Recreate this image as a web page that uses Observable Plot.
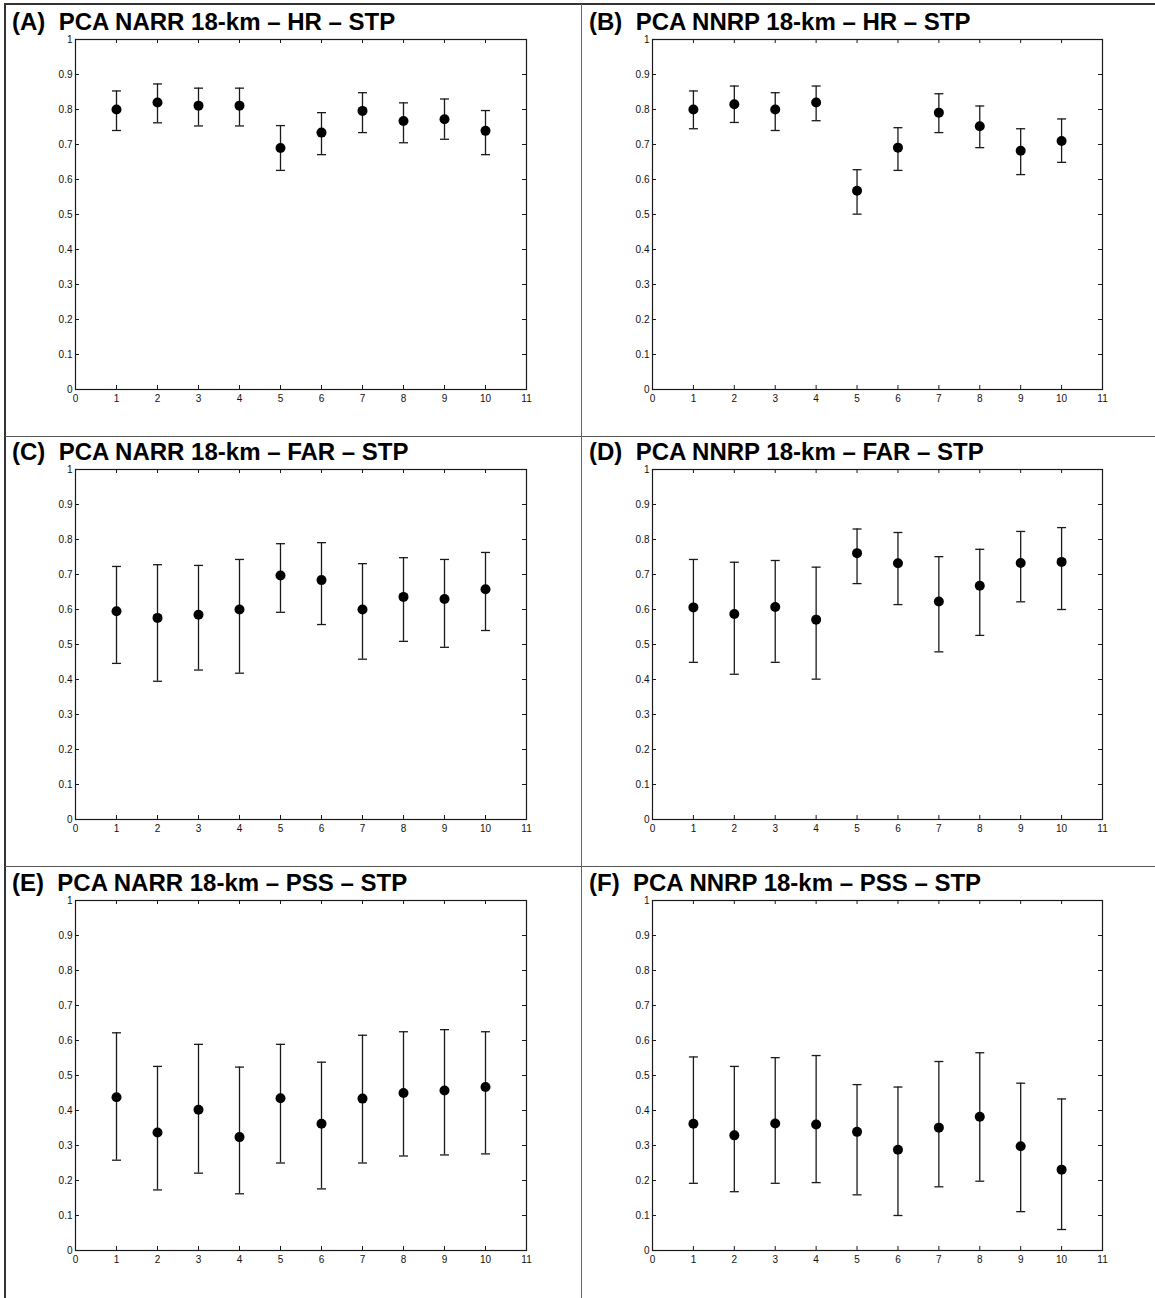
<!DOCTYPE html>
<html><head><meta charset="utf-8">
<script src="https://cdn.jsdelivr.net/npm/d3@7"></script>
<script src="https://cdn.jsdelivr.net/npm/@observablehq/plot@0.6"></script>
<style>
body{margin:0;background:#fff;}
#page{position:relative;width:1155px;height:1298px;overflow:hidden;font-family:"Liberation Sans",Arial,sans-serif;background:#fff;}
.title{position:absolute;font-weight:bold;font-size:24px;white-space:pre;color:#000;line-height:1;}
.panel{position:absolute;}
.line{position:absolute;}
</style></head><body><div id="page"></div>
<script>
// ---- data ----
const xCats = [1, 2, 3, 4, 5, 6, 7, 8, 9, 10];
const xTicks = [0, 1, 2, 3, 4, 5, 6, 7, 8, 9, 10, 11];
const yTicks = [0, 0.1, 0.2, 0.3, 0.4, 0.5, 0.6, 0.7, 0.8, 0.9, 1];
const titles = [
  "(A)  PCA NARR 18-km – HR – STP",
  "(B)  PCA NNRP 18-km – HR – STP",
  "(C)  PCA NARR 18-km – FAR – STP",
  "(D)  PCA NNRP 18-km – FAR – STP",
  "(E)  PCA NARR 18-km – PSS – STP",
  "(F)  PCA NNRP 18-km – PSS – STP"
];
const meanA  = [0.800, 0.820, 0.811, 0.811, 0.690, 0.734, 0.796, 0.767, 0.772, 0.739];
const upperA = [0.853, 0.873, 0.861, 0.861, 0.754, 0.791, 0.848, 0.819, 0.830, 0.797];
const lowerA = [0.740, 0.762, 0.753, 0.753, 0.626, 0.671, 0.734, 0.705, 0.715, 0.671];

const meanB  = [0.800, 0.815, 0.800, 0.820, 0.568, 0.691, 0.791, 0.752, 0.682, 0.710];
const upperB = [0.853, 0.867, 0.848, 0.867, 0.628, 0.748, 0.845, 0.810, 0.745, 0.773];
const lowerB = [0.745, 0.763, 0.740, 0.768, 0.501, 0.626, 0.734, 0.691, 0.614, 0.649];

const meanC  = [0.595, 0.576, 0.585, 0.600, 0.697, 0.684, 0.600, 0.636, 0.630, 0.658];
const upperC = [0.723, 0.728, 0.726, 0.743, 0.788, 0.791, 0.731, 0.748, 0.743, 0.763];
const lowerC = [0.446, 0.395, 0.427, 0.418, 0.592, 0.557, 0.458, 0.509, 0.492, 0.540];

const meanD  = [0.606, 0.587, 0.607, 0.571, 0.761, 0.732, 0.623, 0.668, 0.733, 0.736];
const upperD = [0.743, 0.735, 0.740, 0.721, 0.830, 0.820, 0.751, 0.772, 0.823, 0.834];
const lowerD = [0.449, 0.415, 0.449, 0.401, 0.674, 0.614, 0.479, 0.526, 0.622, 0.600];

const meanE  = [0.438, 0.337, 0.402, 0.324, 0.435, 0.362, 0.434, 0.450, 0.457, 0.467];
const upperE = [0.622, 0.526, 0.589, 0.524, 0.589, 0.538, 0.615, 0.625, 0.631, 0.625];
const lowerE = [0.258, 0.173, 0.221, 0.162, 0.250, 0.176, 0.250, 0.270, 0.273, 0.276];

const meanF  = [0.362, 0.329, 0.363, 0.360, 0.339, 0.288, 0.351, 0.382, 0.298, 0.231];
const upperF = [0.553, 0.526, 0.551, 0.557, 0.474, 0.467, 0.540, 0.565, 0.478, 0.433];
const lowerF = [0.192, 0.168, 0.192, 0.194, 0.159, 0.100, 0.182, 0.198, 0.111, 0.060];

const series = [
  [meanA, upperA, lowerA], [meanB, upperB, lowerB],
  [meanC, upperC, lowerC], [meanD, upperD, lowerD],
  [meanE, upperE, lowerE], [meanF, upperF, lowerF]
];

// ---- layout ----
const page = document.getElementById("page");
const colLeft = [0, 578];
const rowTop = [0, 430, 861];
const W = 578, H = 432;
const MT = 39, MB = 43;
const FH = H - MT - MB;
const colMargins = [[75, 52], [74, 54]];
const titleLeft = [12, 589];
const ink = "#1a1a1a";

const capSymbol = {
  draw(ctx, size) {
    const r = Math.sqrt(size / Math.PI);
    ctx.moveTo(-r, 0);
    ctx.lineTo(r, 0);
  }
};

function addLine(x, y, w, h, color) {
  const d = document.createElement("div");
  d.className = "line";
  Object.assign(d.style, {left: x + "px", top: y + "px", width: w + "px", height: h + "px", background: color});
  page.appendChild(d);
}

series.forEach(([mean, upper, lower], i) => {
  const col = i % 2, row = Math.floor(i / 2);
  const [ml, mr] = colMargins[col];
  const FW = W - ml - mr;
  const data = xCats.map((x, j) => ({x, v: mean[j], hi: upper[j], lo: lower[j]}));
  const chart = Plot.plot({
    width: W, height: H,
    marginLeft: ml, marginRight: mr, marginTop: MT, marginBottom: MB,
    x: {domain: [0, 11], label: null},
    y: {domain: [0, 1], label: null},
    style: {fontFamily: "'Liberation Sans', Arial, sans-serif", fontSize: "10px", background: "transparent", color: "#111", overflow: "visible"},
    marks: [
      Plot.frame({stroke: ink, strokeWidth: 1.2}),
      Plot.ruleX(xTicks, {x: d => d, insetTop: FH - 4, stroke: ink}),
      Plot.ruleX(xTicks, {x: d => d, insetBottom: FH - 4, stroke: ink}),
      Plot.ruleY(yTicks, {y: d => d, insetRight: FW - 4, stroke: ink}),
      Plot.ruleY(yTicks, {y: d => d, insetLeft: FW - 4, stroke: ink}),
      Plot.axisX({ticks: xTicks, tickSize: 0, tickPadding: 5, tickFormat: d => String(d), label: null, fontSize: 10}),
      Plot.axisY({ticks: yTicks, tickSize: 0, tickPadding: 3, tickFormat: d => String(d), label: null, fontSize: 10}),
      Plot.ruleX(data, {x: "x", y1: "lo", y2: "hi", stroke: ink, strokeWidth: 1.3}),
      Plot.dot(data, {x: "x", y: "hi", symbol: capSymbol, r: 4.5, stroke: ink, fill: "none", strokeWidth: 1.3}),
      Plot.dot(data, {x: "x", y: "lo", symbol: capSymbol, r: 4.5, stroke: ink, fill: "none", strokeWidth: 1.3}),
      Plot.dot(data, {x: "x", y: "v", r: 5, fill: "#000", stroke: "none"})
    ]
  });
  chart.classList.add("panel");
  chart.style.left = colLeft[col] + "px";
  chart.style.top = rowTop[row] + "px";
  page.appendChild(chart);

  const t = document.createElement("div");
  t.className = "title";
  t.textContent = titles[i];
  t.style.left = titleLeft[col] + "px";
  t.style.top = (rowTop[row] + 10) + "px";
  page.appendChild(t);
});

// table borders
addLine(4, 3, 1151, 2, "#333");
addLine(4, 3, 2, 1295, "#333");
addLine(5, 436, 1150, 1, "#555");
addLine(5, 866, 1150, 1, "#555");
addLine(581, 4, 1, 1294, "#666");
</script>
</body></html>
